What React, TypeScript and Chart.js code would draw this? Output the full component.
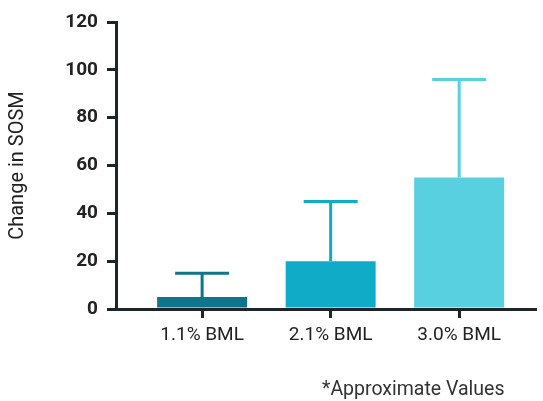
import React, { useEffect, useRef } from "react";
import { Chart, registerables } from "chart.js";

Chart.register(...registerables);

const categories = ["1.1% BML", "2.1% BML", "3.0% BML"];
const positions = [1, 2, 3];
const means = [5, 20, 55];
const errorTops = [15, 45, 96];
const barColors = ["#0f758c", "#10abc7", "#58d0e0"];
const yTicks = [0, 20, 40, 60, 80, 100, 120];
const yTitle = "Change in SOSM";
const footnote = "*Approximate Values";

const AXIS = "#1d252b";
const FONT = "Roboto, 'Liberation Sans', sans-serif";

const errorBarPlugin = {
  id: "errorBars",
  afterDatasetsDraw(chart: any) {
    const ctx = chart.ctx;
    const xs = chart.scales.x;
    const ys = chart.scales.y;
    ctx.save();
    ctx.lineWidth = 3;
    positions.forEach((p, i) => {
      const x = xs.getPixelForValue(p);
      const yTop = ys.getPixelForValue(errorTops[i]);
      const yBar = ys.getPixelForValue(means[i]);
      const half = xs.getPixelForValue(p + 0.21) - x;
      ctx.strokeStyle = barColors[i];
      ctx.beginPath();
      ctx.moveTo(x, yBar);
      ctx.lineTo(x, yTop);
      ctx.stroke();
      ctx.beginPath();
      ctx.moveTo(x - half, yTop);
      ctx.lineTo(x + half, yTop);
      ctx.stroke();
    });
    ctx.restore();
  },
};

export default function App() {
  const ref = useRef<HTMLCanvasElement | null>(null);
  useEffect(() => {
    if (!ref.current) return;
    const chart = new Chart(ref.current, {
      type: "bar",
      data: {
        datasets: [
          {
            data: positions.map((p, i) => ({ x: p, y: means[i] })),
            backgroundColor: barColors,
            borderWidth: 0,
            barPercentage: 0.7,
            categoryPercentage: 1,
          },
        ],
      },
      options: {
        animation: false,
        responsive: false,
        maintainAspectRatio: false,
        layout: { padding: { top: 22, right: 8, bottom: 0, left: 0 } },
        plugins: {
          legend: { display: false },
          tooltip: { enabled: false },
        },
        scales: {
          x: {
            type: "linear",
            offset: false,
            min: 0.33,
            max: 3.59,
            afterBuildTicks: (scale: any) => {
              scale.ticks = positions.map((v) => ({ value: v }));
            },
            afterFit: (scale: any) => {
              scale.height = 92;
            },
            ticks: {
              callback: (v: any) => categories[positions.indexOf(Number(v))] ?? "",
              color: "#222",
              font: { family: FONT, size: 19 },
              padding: 6,
              maxRotation: 0,
              autoSkip: false,
            },
            grid: {
              drawOnChartArea: false,
              offset: false,
              tickLength: 9,
              color: AXIS,
              lineWidth: 3,
            },
            border: { display: true, color: AXIS, width: 3 },
          },
          y: {
            min: 0,
            max: 120,
            afterBuildTicks: (scale: any) => {
              scale.ticks = yTicks.map((v) => ({ value: v }));
            },
            afterFit: (scale: any) => {
              scale.width = 116;
            },
            ticks: {
              color: "#222",
              font: { family: FONT, size: 19, weight: "bold" },
              padding: 9,
            },
            grid: {
              drawOnChartArea: false,
              tickLength: 9,
              color: AXIS,
              lineWidth: 3,
            },
            border: { display: true, color: AXIS, width: 3 },
            title: {
              display: true,
              text: yTitle,
              color: "#222",
              font: { family: FONT, size: 20 },
              padding: { top: 6, bottom: 0 },
            },
          },
        },
      },
      plugins: [errorBarPlugin],
    });
    return () => chart.destroy();
  }, []);
  return (
    <div style={{ position: "fixed", left: 0, top: 0, width: 543, height: 401, background: "#fff" }}>
      <canvas ref={ref} width={543} height={401} style={{ width: 543, height: 401, display: "block" }} />
      <div
        style={{
          position: "absolute",
          left: 322,
          top: 377,
          fontFamily: FONT,
          fontSize: 19.5,
          color: "#333",
          whiteSpace: "nowrap",
          lineHeight: "24px",
        }}
      >
        {footnote}
      </div>
    </div>
  );
}
